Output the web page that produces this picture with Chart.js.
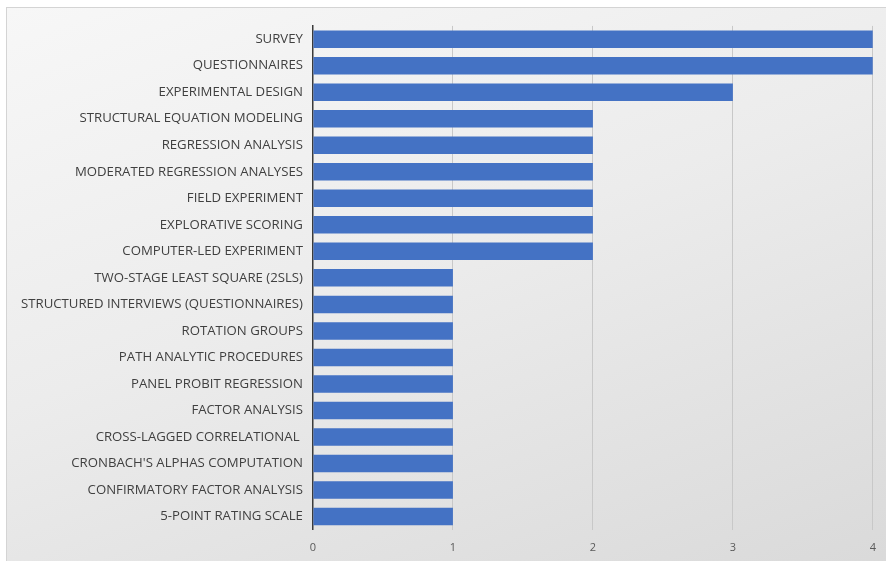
<!DOCTYPE html>
<html>
<head>
<meta charset="utf-8">
<script src="https://cdn.jsdelivr.net/npm/chart.js@4/dist/chart.umd.min.js"></script>
<style>
  html, body { margin: 0; padding: 0; background: #fff; overflow: hidden; }
  #frame {
    position: absolute;
    left: 6px;
    top: 7px;
    width: 886px;
    height: 570px;
    border: 1px solid #d4d4d4;
    background: linear-gradient(160deg, #f7f7f7 0%, #ececec 45%, #d9d9d9 100%);
  }
  #wrap { position: absolute; left: 0; top: 0; width: 880px; height: 557px; }
</style>
</head>
<body>
<div id="frame">
  <div id="wrap"><canvas id="methodChart"></canvas></div>
</div>
<script>
// Methods used across the reviewed studies (number of papers)
const methods = [
  "SURVEY",
  "QUESTIONNAIRES",
  "EXPERIMENTAL DESIGN",
  "STRUCTURAL EQUATION MODELING",
  "REGRESSION ANALYSIS",
  "MODERATED REGRESSION ANALYSES",
  "FIELD EXPERIMENT",
  "EXPLORATIVE SCORING",
  "COMPUTER-LED EXPERIMENT",
  "TWO-STAGE LEAST SQUARE (2SLS)",
  "STRUCTURED INTERVIEWS (QUESTIONNAIRES)",
  "ROTATION GROUPS",
  "PATH ANALYTIC PROCEDURES",
  "PANEL PROBIT REGRESSION",
  "FACTOR ANALYSIS",
  "CROSS-LAGGED CORRELATIONAL ",
  "CRONBACH'S ALPHAS COMPUTATION",
  "CONFIRMATORY FACTOR ANALYSIS",
  "5-POINT RATING SCALE"
];
const paperCounts = [4, 4, 3, 2, 2, 2, 2, 2, 2, 1, 1, 1, 1, 1, 1, 1, 1, 1, 1];
const xTicks = [0, 1, 2, 3, 4];

const labelFont = { family: "'Open Sans', sans-serif", size: 13.2 };

new Chart(document.getElementById("methodChart"), {
  type: "bar",
  data: {
    labels: methods,
    datasets: [
      {
        data: paperCounts,
        backgroundColor: "#4472C4",
        borderWidth: 0,
        barPercentage: 0.66,
        categoryPercentage: 1
      }
    ]
  },
  options: {
    indexAxis: "y",
    responsive: true,
    maintainAspectRatio: false,
    animation: false,
    layout: { padding: { top: 17, right: 1, bottom: 0, left: 4 } },
    plugins: {
      legend: { display: false },
      tooltip: { enabled: false }
    },
    scales: {
      x: {
        min: 0,
        max: 4,
        afterBuildTicks: (axis) => {
          axis.ticks = xTicks.map((v) => ({ value: v }));
        },
        grid: {
          color: (ctx) => (ctx.tick && ctx.tick.value === 0 ? "rgba(0,0,0,0)" : "#c8c8c8"),
          lineWidth: 1,
          drawTicks: false
        },
        border: { display: false },
        ticks: {
          color: "#595959",
          font: { family: "'Open Sans', sans-serif", size: 11 },
          padding: 11
        }
      },
      y: {
        grid: { display: false, drawTicks: false },
        border: { display: true, color: "#3a3a3a", width: 1.5 },
        ticks: {
          color: "#404040",
          font: labelFont,
          padding: 10,
          autoSkip: false
        }
      }
    }
  }
});
</script>
</body>
</html>
